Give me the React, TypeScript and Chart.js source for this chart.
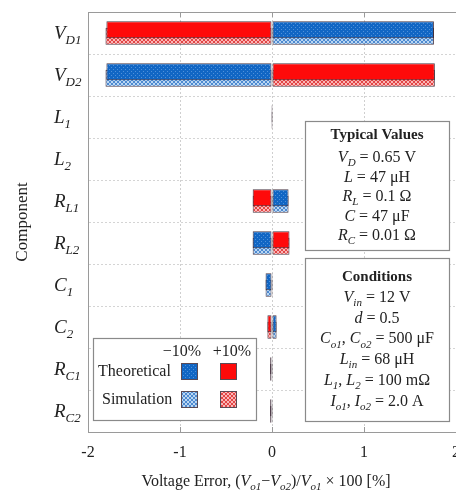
import React, { useEffect, useRef } from 'react';
import { Chart, registerables } from 'chart.js';

Chart.register(...registerables);

// Components whose ±10% tolerance is swept
const components = ['VD1', 'VD2', 'L1', 'L2', 'RL1', 'RL2', 'C1', 'C2', 'RC1', 'RC2'];
const labelMain = ['V', 'V', 'L', 'L', 'R', 'R', 'C', 'C', 'R', 'R'];
const labelSub = ['D1', 'D2', '1', '2', 'L1', 'L2', '1', '2', 'C1', 'C2'];

// Voltage error in % for a −10% / +10% change of each component
const theoreticalMinus10 = [1.76, -1.8, -0.01, -0.005, 0.18, -0.21, -0.07, 0.05, 0.01, -0.02];
const theoreticalPlus10 = [-1.8, 1.77, 0.01, 0.005, -0.21, 0.19, 0.01, -0.05, -0.02, 0.01];
const simulationMinus10 = [1.76, -1.81, -0.01, -0.005, 0.18, -0.21, -0.07, 0.05, 0.01, -0.02];
const simulationPlus10 = [-1.81, 1.77, 0.01, 0.005, -0.21, 0.19, 0.01, -0.05, -0.02, 0.01];

const xTicks = [-2, -1, 0, 1, 2];

const SERIF = '"Liberation Serif", "Times New Roman", serif';
const TEXT = '#222222';

type Seg = { t: string; i?: boolean; sub?: boolean; b?: boolean };

function segFont(s: Seg, size: number) {
  const sz = s.sub ? Math.round(size * 0.66) : size;
  return `${s.i ? 'italic ' : ''}${s.b ? 'bold ' : ''}${sz}px ${SERIF}`;
}

function drawRich(ctx: CanvasRenderingContext2D, segs: Seg[], x: number, y: number, size: number, align: 'left' | 'center') {
  ctx.save();
  ctx.textAlign = 'left';
  ctx.textBaseline = 'alphabetic';
  ctx.fillStyle = TEXT;
  let w = 0;
  for (const s of segs) {
    ctx.font = segFont(s, size);
    w += ctx.measureText(s.t).width;
  }
  let cx = align === 'center' ? x - w / 2 : x;
  for (const s of segs) {
    ctx.font = segFont(s, size);
    ctx.fillText(s.t, cx, y + (s.sub ? size * 0.26 : 0));
    cx += ctx.measureText(s.t).width;
  }
  ctx.restore();
}

function makePattern(kind: string): CanvasPattern | string {
  const c = document.createElement('canvas');
  c.width = 4;
  c.height = 4;
  const g = c.getContext('2d');
  if (!g) return '#888';
  if (kind === 'theoBlue') {
    g.fillStyle = '#1166c4';
    g.fillRect(0, 0, 4, 4);
    g.fillStyle = '#4f90da';
    g.fillRect(1, 1, 1, 1);
    g.fillRect(3, 3, 1, 1);
  } else if (kind === 'theoRed') {
    g.fillStyle = '#fe0a0a';
    g.fillRect(0, 0, 4, 4);
  } else if (kind === 'simBlue') {
    g.fillStyle = '#b9d6f3';
    g.fillRect(0, 0, 4, 4);
    g.fillStyle = '#4e8ad0';
    for (let k = 0; k < 4; k++) {
      g.fillRect(k, k, 1, 1);
      g.fillRect(3 - k, k, 1, 1);
    }
  } else {
    g.fillStyle = '#fbb6b6';
    g.fillRect(0, 0, 4, 4);
    g.fillStyle = '#e24646';
    for (let k = 0; k < 4; k++) {
      g.fillRect(k, k, 1, 1);
      g.fillRect(3 - k, k, 1, 1);
    }
  }
  return g.createPattern(c, 'repeat') || '#888';
}

const typicalLines: Seg[][] = [
  [{ t: 'V', i: true }, { t: 'D', i: true, sub: true }, { t: ' = 0.65 V' }],
  [{ t: 'L', i: true }, { t: ' = 47 μH' }],
  [{ t: 'R', i: true }, { t: 'L', i: true, sub: true }, { t: ' = 0.1 Ω' }],
  [{ t: 'C', i: true }, { t: ' = 47 μF' }],
  [{ t: 'R', i: true }, { t: 'C', i: true, sub: true }, { t: ' = 0.01 Ω' }],
];

const conditionLines: Seg[][] = [
  [{ t: 'V', i: true }, { t: 'in', i: true, sub: true }, { t: ' = 12 V' }],
  [{ t: 'd', i: true }, { t: ' = 0.5' }],
  [{ t: 'C', i: true }, { t: 'o1', i: true, sub: true }, { t: ', ' }, { t: 'C', i: true }, { t: 'o2', i: true, sub: true }, { t: ' = 500 μF' }],
  [{ t: 'L', i: true }, { t: 'in', i: true, sub: true }, { t: ' = 68 μH' }],
  [{ t: 'L', i: true }, { t: '1', i: true, sub: true }, { t: ', ' }, { t: 'L', i: true }, { t: '2', i: true, sub: true }, { t: ' = 100 mΩ' }],
  [{ t: 'I', i: true }, { t: 'o1', i: true, sub: true }, { t: ', ' }, { t: 'I', i: true }, { t: 'o2', i: true, sub: true }, { t: ' = 2.0 A' }],
];

const xTitle: Seg[] = [
  { t: 'Voltage Error, (' },
  { t: 'V', i: true }, { t: 'o1', i: true, sub: true },
  { t: '−' },
  { t: 'V', i: true }, { t: 'o2', i: true, sub: true },
  { t: ')/' },
  { t: 'V', i: true }, { t: 'o1', i: true, sub: true },
  { t: ' × 100 [%]' },
];

function drawBox(ctx: CanvasRenderingContext2D, x0: number, y0: number, x1: number, y1: number) {
  ctx.save();
  ctx.fillStyle = '#ffffff';
  ctx.fillRect(x0, y0, x1 - x0, y1 - y0);
  ctx.strokeStyle = '#8a8a8a';
  ctx.lineWidth = 1.2;
  ctx.strokeRect(x0 + 0.5, y0 + 0.5, x1 - x0, y1 - y0);
  ctx.restore();
}

export default function App() {
  const canvasRef = useRef<HTMLCanvasElement | null>(null);

  useEffect(() => {
    const canvas = canvasRef.current;
    if (!canvas) return;

    const pTB = makePattern('theoBlue');
    const pTR = makePattern('theoRed');
    const pSB = makePattern('simBlue');
    const pSR = makePattern('simRed');

    const annotations = {
      id: 'annotations',
      afterDraw(chart: any) {
        const ctx: CanvasRenderingContext2D = chart.ctx;
        const area = chart.chartArea;
        const xs = chart.scales.x;
        const ys = chart.scales.y;

        // solid frame on top and short inward ticks
        ctx.save();
        ctx.strokeStyle = '#9a9a9a';
        ctx.lineWidth = 1;
        ctx.beginPath();
        ctx.moveTo(area.left, area.top + 0.5);
        ctx.lineTo(area.right, area.top + 0.5);
        for (const v of xTicks) {
          const px = Math.round(xs.getPixelForValue(v)) + 0.5;
          ctx.moveTo(px, area.bottom);
          ctx.lineTo(px, area.bottom - 5);
          ctx.moveTo(px, area.top);
          ctx.lineTo(px, area.top + 5);
        }
        ctx.stroke();
        ctx.restore();

        // category labels with subscripts
        components.forEach((_, i) => {
          const cy = ys.getPixelForValue(i);
          drawRich(ctx, [{ t: labelMain[i], i: true }, { t: labelSub[i], i: true, sub: true }], 54, cy + 6, 19, 'left');
        });

        // y axis title
        ctx.save();
        ctx.translate(23, (area.top + area.bottom) / 2);
        ctx.rotate(-Math.PI / 2);
        ctx.font = `17px ${SERIF}`;
        ctx.fillStyle = TEXT;
        ctx.textAlign = 'center';
        ctx.textBaseline = 'middle';
        ctx.fillText('Component', 0, 0);
        ctx.restore();

        // x axis title
        drawRich(ctx, xTitle, (area.left + area.right) / 2 - 6, 486, 16, 'center');

        // parameter boxes
        drawBox(ctx, 305, 121, 449, 250);
        drawRich(ctx, [{ t: 'Typical Values', b: true }], 377, 139, 15, 'center');
        typicalLines.forEach((ln, k) => drawRich(ctx, ln, 377, 162 + k * 19.5, 16, 'center'));

        drawBox(ctx, 305, 258, 449, 421);
        drawRich(ctx, [{ t: 'Conditions', b: true }], 377, 281, 15, 'center');
        conditionLines.forEach((ln, k) => drawRich(ctx, ln, 377, 302 + k * 20.7, 16, 'center'));

        // legend
        drawBox(ctx, 93, 338, 256, 420);
        drawRich(ctx, [{ t: '−10%' }], 182, 356, 16, 'center');
        drawRich(ctx, [{ t: '+10%' }], 232, 356, 16, 'center');
        drawRich(ctx, [{ t: 'Theoretical' }], 98, 376, 16, 'left');
        drawRich(ctx, [{ t: 'Simulation' }], 102, 404, 16, 'left');
        const sw = (fill: any, x: number, y: number) => {
          ctx.save();
          ctx.fillStyle = fill;
          ctx.fillRect(x, y, 16, 16);
          ctx.strokeStyle = '#5a4a55';
          ctx.lineWidth = 1;
          ctx.strokeRect(x + 0.5, y + 0.5, 16, 16);
          ctx.restore();
        };
        sw(pTB, 181, 363);
        sw(pTR, 220, 363);
        sw(pSB, 181, 391);
        sw(pSR, 220, 391);
      },
    };

    const chart = new Chart(canvas, {
      type: 'bar',
      data: {
        labels: components,
        datasets: [
          { label: 'Theoretical −10%', data: theoreticalMinus10, backgroundColor: pTB as any, stack: 'theoretical' },
          { label: 'Theoretical +10%', data: theoreticalPlus10, backgroundColor: pTR as any, stack: 'theoretical' },
          { label: 'Simulation −10%', data: simulationMinus10, backgroundColor: pSB as any, stack: 'simulation' },
          { label: 'Simulation +10%', data: simulationPlus10, backgroundColor: pSR as any, stack: 'simulation' },
        ],
      },
      options: {
        indexAxis: 'y',
        animation: false,
        responsive: true,
        maintainAspectRatio: false,
        layout: { padding: { left: 8, top: 12, right: 0, bottom: 0 } },
        datasets: {
          bar: {
            categoryPercentage: 0.31,
            barPercentage: 2.6,
            borderWidth: 1,
            borderColor: 'rgba(55,35,50,0.9)',
            borderSkipped: false,
          },
        },
        plugins: {
          legend: { display: false },
          tooltip: { enabled: false },
        },
        scales: {
          x: {
            type: 'linear',
            min: -2,
            max: 2,
            stacked: false,
            afterBuildTicks: (scale: any) => {
              scale.ticks = xTicks.map((v) => ({ value: v }));
            },
            afterFit: (scale: any) => {
              scale.height = 64;
              scale.paddingLeft = 0;
              scale.paddingRight = 0;
            },
            ticks: {
              color: TEXT,
              font: { family: SERIF, size: 16 },
              padding: 11,
              callback: (v: any) => String(v),
            },
            grid: { color: '#cfcfcf', drawTicks: false },
            border: { color: '#9a9a9a', width: 1, dash: [2, 2] },
          },
          y: {
            type: 'category',
            afterFit: (scale: any) => {
              scale.width = 80;
              scale.paddingTop = 0;
              scale.paddingBottom = 0;
            },
            ticks: { display: false },
            grid: { color: '#d4d4d4', drawTicks: false, offset: true },
            border: { color: '#9a9a9a', width: 1, dash: [2, 2] },
          },
        },
      },
      plugins: [annotations],
    });

    return () => chart.destroy();
  }, []);

  return (
    <div style={{ position: 'fixed', left: 0, top: 0, width: 456, height: 496, overflow: 'hidden', background: '#fff' }}>
      <canvas ref={canvasRef} />
    </div>
  );
}
